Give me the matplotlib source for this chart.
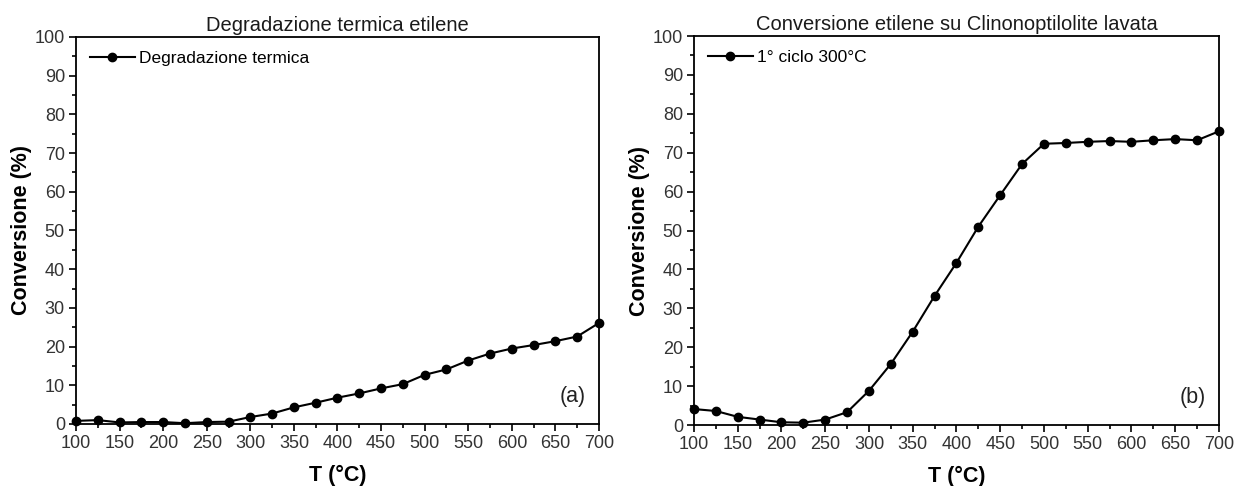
import matplotlib
matplotlib.use("Agg")
import matplotlib.pyplot as plt
from matplotlib.ticker import MultipleLocator

plt.rcParams['font.family'] = ['Liberation Sans', 'DejaVu Sans']

temps = [100, 125, 150, 175, 200, 225, 250, 275, 300, 325, 350, 375, 400,
         425, 450, 475, 500, 525, 550, 575, 600, 625, 650, 675, 700]

degradazione = [0.8, 1.0, 0.4, 0.5, 0.5, 0.2, 0.5, 0.6, 1.8, 2.7, 4.3, 5.5, 6.8,
                7.9, 9.2, 10.3, 12.7, 14.1, 16.4, 18.2, 19.5, 20.4, 21.4, 22.6, 26.1]

ciclo300 = [4.1, 3.6, 2.1, 1.4, 0.7, 0.6, 1.4, 3.3, 8.8, 15.7, 24.0, 33.2, 41.7,
            51.0, 59.1, 67.1, 72.3, 72.5, 72.8, 73.0, 72.8, 73.2, 73.5, 73.2, 75.5]

titles = ["Degradazione termica etilene", "Conversione etilene su Clinonoptilolite lavata"]
labels = ["Degradazione termica", "1° ciclo 300°C"]
tags = ["(a)", "(b)"]
series = [degradazione, ciclo300]

fig = plt.figure(figsize=(12.34, 4.86), dpi=100)
positions = [[0.0616, 0.1276, 0.4238, 0.7963], [0.5624, 0.1255, 0.4254, 0.8004]]

tick_color = '#333333'
for pos, title, lab, tag, ys in zip(positions, titles, labels, tags, series):
    ax = fig.add_axes(pos)
    ax.plot(temps, ys, color='black', lw=1.5, marker='o', ms=6, label=lab,
            clip_on=False, zorder=3)
    ax.set_xlim(100, 700)
    ax.set_ylim(0, 100)
    ax.xaxis.set_major_locator(MultipleLocator(50))
    ax.xaxis.set_minor_locator(MultipleLocator(25))
    ax.yaxis.set_major_locator(MultipleLocator(10))
    ax.yaxis.set_minor_locator(MultipleLocator(5))
    ax.tick_params(which='both', direction='out', top=False, right=False,
                   colors='black', width=1.2)
    ax.tick_params(which='major', length=5, labelsize=13, labelcolor=tick_color, pad=3)
    ax.tick_params(which='minor', length=3)
    for s in ax.spines.values():
        s.set_linewidth(1.3)
    ax.set_title(title, fontsize=14.5, color='#1a1a1a', pad=4)
    ax.set_xlabel("T (°C)", fontsize=15.5, fontweight='bold', labelpad=9)
    ax.set_ylabel("Conversione (%)", fontsize=15.5, fontweight='bold', labelpad=2)
    ax.legend(loc='upper left', frameon=False, fontsize=12.5, handlelength=2.6,
              handletextpad=0.2, borderaxespad=0.4, borderpad=0.4)
    ax.text(0.975, 0.07, tag, transform=ax.transAxes, ha='right', va='center',
            fontsize=15.5, color='#222222')

fig.savefig("out.png", dpi=100)
